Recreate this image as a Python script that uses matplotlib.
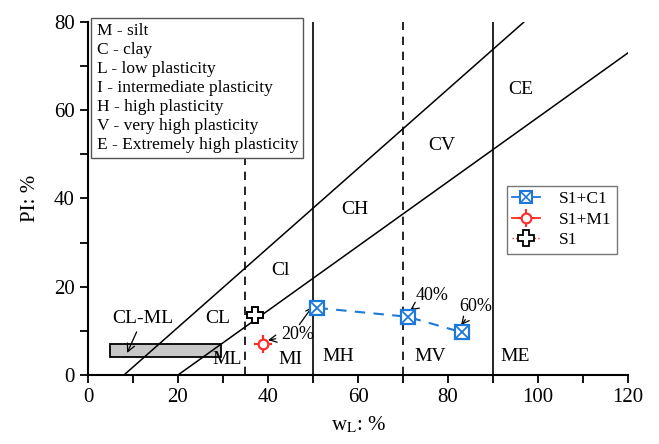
import numpy as np
import matplotlib
matplotlib.use("Agg")
import matplotlib.pyplot as plt
from matplotlib.patches import Rectangle
from matplotlib.lines import Line2D
from matplotlib.legend_handler import HandlerTuple

plt.rcParams['font.family'] = ['Liberation Serif', 'DejaVu Serif']
plt.rcParams['mathtext.fontset'] = 'stix'

# ----- data -----
s1c1_wl = [51, 71, 83]
s1c1_pi = [15.2, 13.2, 9.7]
s1m1_wl = [39]
s1m1_pi = [7.0]
s1_wl = [37.1]
s1_pi = [13.6]

a_line_wl = [20, 120]          # PI = 0.73 (wL - 20)
u_line_wl = [8, 96.9]          # PI = 0.9 (wL - 8)
clml_box = (5, 4, 29.6, 7)     # x0, y0, x1, y1

zone_labels = ["CL", "Cl", "CH", "CV", "CE", "ML", "MI", "MH", "MV", "ME"]
zone_x = [28.9, 42.7, 59.3, 78.7, 96.2, 30.9, 44.9, 55.6, 76.0, 94.9]
zone_y = [12.9, 23.6, 37.4, 52.1, 64.6, 3.4, 3.4, 4.1, 4.1, 4.1]

key_text = ["M - silt", "C - clay", "L - low plasticity",
            "I - intermediate plasticity", "H - high plasticity",
            "V - very high plasticity", "E - Extremely high plasticity"]

blue = "#1e78d8"
red = "#ff2a2a"

fig = plt.figure(figsize=(6.59, 4.44), dpi=100)
ax = fig.add_axes([0.1335, 0.1554, 0.8195, 0.7951])

# CL-ML zone
ax.add_patch(Rectangle((clml_box[0], clml_box[1]), clml_box[2] - clml_box[0],
                       clml_box[3] - clml_box[1], facecolor="#c8c8c8",
                       edgecolor="black", lw=1.3, zorder=1))

# A-line and U-line
a_x = np.array(a_line_wl)
u_x = np.array(u_line_wl)
ax.plot(a_x, 0.73 * (a_x - 20), color="black", lw=1.1, zorder=2)
ax.plot(u_x, 0.9 * (u_x - 8), color="black", lw=1.1, zorder=2)

# boundaries
for xv in [50, 90]:
    ax.plot([xv, xv], [0, 80], color="black", lw=1.2, zorder=2)
for xv in [35, 70]:
    ax.plot([xv, xv], [0, 80], color="black", lw=1.2, ls=(0, (5, 4)), zorder=2)

# zone labels
for lab, xx, yy in zip(zone_labels, zone_x, zone_y):
    ax.text(xx, yy, lab, fontsize=14, ha="center", va="center")

# data
ax.plot(s1c1_wl, s1c1_pi, color=blue, lw=1.5, ls=(0, (5, 4)), zorder=3)
ax.plot(s1c1_wl, s1c1_pi, ls="none", marker="s", ms=10, mfc="white",
        mec=blue, mew=1.6, zorder=4)
ax.plot(s1c1_wl, s1c1_pi, ls="none", marker="x", ms=9, mec=blue,
        mew=1.3, zorder=5)
ax.plot(s1m1_wl, s1m1_pi, ls="none", marker="+", ms=13, mec=red,
        mew=1.6, zorder=4)
ax.plot(s1m1_wl, s1m1_pi, ls="none", marker="o", ms=7, mfc="white",
        mec=red, mew=1.6, zorder=5)
ax.plot(s1_wl, s1_pi, ls="none", marker="P", ms=11, mfc="white",
        mec="black", mew=1.4, zorder=4)

# legend handles
h1 = (Line2D([], [], color=blue, lw=1.3, marker="s", ms=9, mfc="white",
             mec=blue, mew=1.5),
      Line2D([], [], ls="none", marker="x", ms=8, mec=blue, mew=1.2))
h2 = (Line2D([], [], color=red, lw=1.3, marker="+", ms=13, mec=red, mew=1.5),
      Line2D([], [], ls="none", marker="o", ms=7, mfc="white", mec=red,
             mew=1.5))
h3 = (Line2D([], [], color=red, lw=1.0, ls=":"),
      Line2D([], [], ls="none", marker="P", ms=11, mfc="white", mec="black",
             mew=1.3))

# annotations
arr = dict(arrowstyle="->", color="black", lw=0.9, shrinkA=2, shrinkB=0)
ax.annotate("CL-ML", xy=(8.7, 5.0), xytext=(12.2, 12.9), fontsize=14,
            ha="center", va="center", arrowprops=arr)
ax.annotate("20%", xy=(40.0, 7.9), xytext=(46.6, 9.1), fontsize=13,
            ha="center", va="center", arrowprops=arr)
ax.annotate("", xy=(49.8, 15.4), xytext=(46.6, 10.9), arrowprops=arr)
ax.annotate("40%", xy=(71.6, 14.7), xytext=(76.4, 18.1), fontsize=13,
            ha="center", va="center", arrowprops=arr)
ax.annotate("60%", xy=(82.9, 11.3), xytext=(86.2, 15.6), fontsize=13,
            ha="center", va="center", arrowprops=arr)

# key box
ax.text(0.016, 0.997, "\n".join(key_text), transform=ax.transAxes,
        fontsize=12.5, ha="left", va="top", linespacing=1.25, zorder=6,
        bbox=dict(boxstyle="square,pad=0.3", facecolor="white",
                  edgecolor="#555555", lw=1.0))

leg = ax.legend([h1, h2, h3], ["S1+C1", "S1+M1", "S1"],
                handler_map={tuple: HandlerTuple(ndivide=1, pad=0)},
                loc="upper left", bbox_to_anchor=(0.76, 0.56), fontsize=12.5,
                fancybox=False, edgecolor="#777777", framealpha=1,
                handlelength=1.6, borderpad=0.3, labelspacing=0.25,
                handletextpad=1.1)
leg.get_frame().set_linewidth(1.0)

ax.set_xlim(0, 120)
ax.set_ylim(0, 80)
ax.set_xticks(np.arange(0, 121, 20))
ax.set_xticks(np.arange(10, 120, 20), minor=True)
ax.set_yticks(np.arange(0, 81, 20))
ax.set_yticks(np.arange(10, 80, 20), minor=True)
ax.spines["top"].set_visible(False)
ax.spines["right"].set_visible(False)
for s in ["left", "bottom"]:
    ax.spines[s].set_linewidth(1.5)
ax.tick_params(which="both", direction="out", length=6, width=1.3,
               labelsize=15)
ax.set_xlabel("w$_\\mathrm{L}$: %", fontsize=15, labelpad=5)
ax.set_ylabel("PI: %", fontsize=15, labelpad=10)

fig.savefig("out.png", dpi=100)
